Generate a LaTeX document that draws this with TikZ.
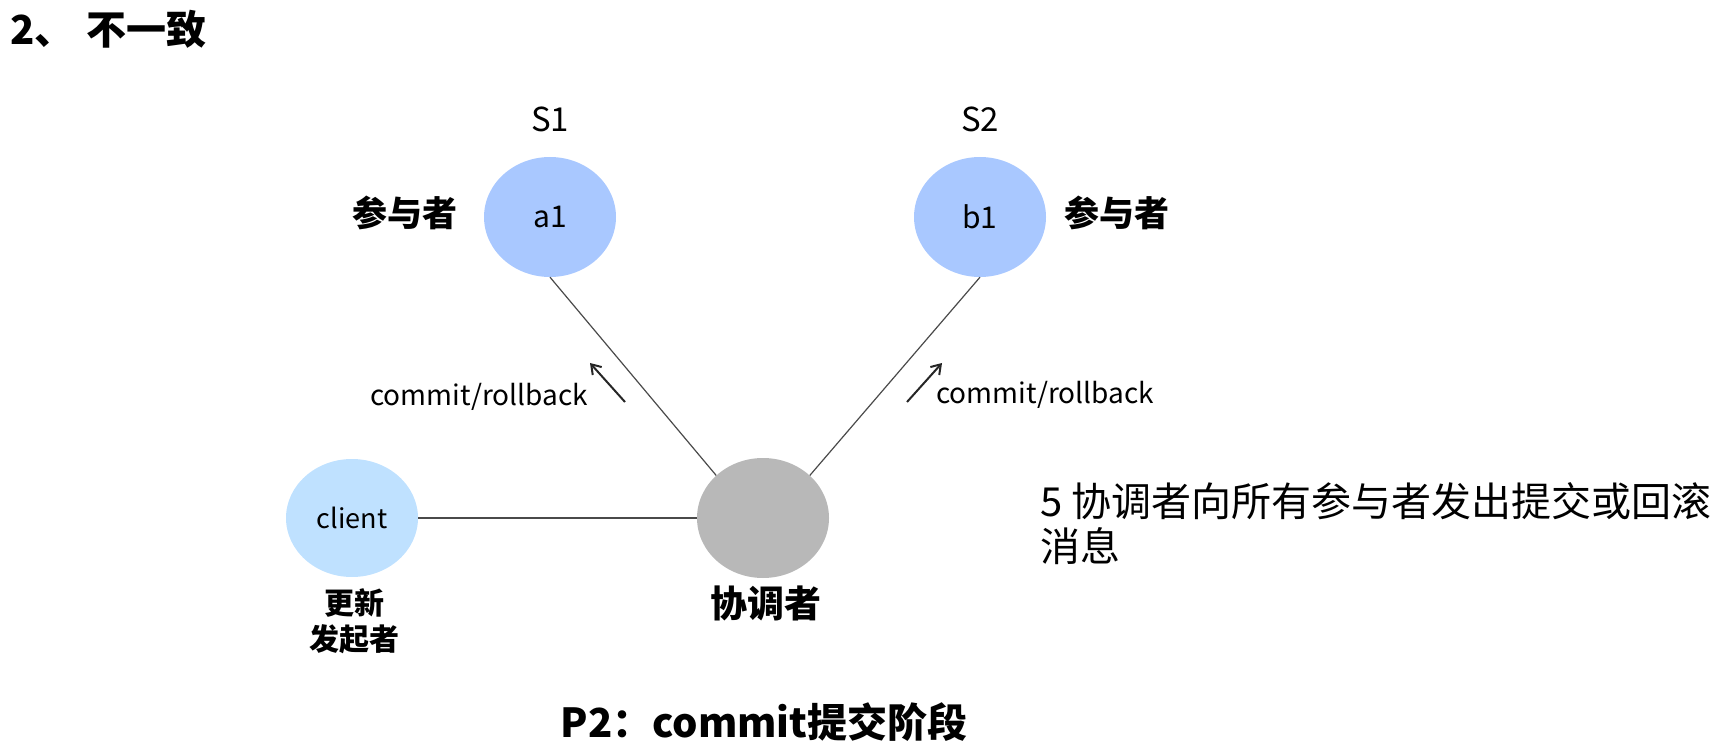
\documentclass[tikz,border=0pt]{standalone}
\usepackage{fontspec}
\setmainfont{Noto Sans CJK SC}
\usetikzlibrary{shapes.geometric,arrows.meta}
\definecolor{partblue}{HTML}{A9C8FF}
\definecolor{clientblue}{HTML}{BFE1FF}
\definecolor{coordgray}{HTML}{B8B8B8}
\definecolor{linegray}{HTML}{4A4A4A}
\tikzset{
  circ/.style={ellipse, inner sep=0pt, minimum width=132pt, minimum height=120pt, draw=none},
  txt/.style={inner sep=0pt, anchor=center, text=black},
  conn/.style={draw=linegray, line width=1.2pt},
  msgarrow/.style={draw=black!85, line width=2pt, -{Straight Barb[length=9pt,width=12pt,line width=2pt]}},
}
\begin{document}
\begin{tikzpicture}[x=1pt,y=-1pt]
\useasboundingbox (0,0) rectangle (1730,743);
% title
\node[txt, anchor=west, font=\fontsize{40}{46}\selectfont\bfseries] (title) at (10,29) {2、\hspace{12pt}不一致};
% nodes
\node[circ, fill=partblue] (a1) at (550,217) {};
\node[txt, font=\fontsize{30}{34}\selectfont] (a1t) at (a1) {a1};
\node[circ, fill=partblue] (b1) at (980,217) {};
\node[txt, font=\fontsize{30}{34}\selectfont] (b1t) at (b1) {b1};
\node[circ, fill=clientblue, minimum height=118pt] (client) at (352,518) {};
\node[txt, font=\fontsize{27}{32}\selectfont] (clientt) at (client) {client};
\node[circ, fill=coordgray] (coord) at (763,518) {};
% labels
\node[txt, font=\fontsize{33}{38}\selectfont] (s1) at (550,119) {S1};
\node[txt, font=\fontsize{33}{38}\selectfont] (s2) at (980,119) {S2};
\node[txt, font=\fontsize{35}{40}\selectfont\bfseries] (pa) at (405,213) {参与者};
\node[txt, font=\fontsize{35}{40}\selectfont\bfseries] (pb) at (1117,213) {参与者};
\node[txt, font=\fontsize{37}{42}\selectfont\bfseries] (coordl) at (766,603) {协调者};
\node[txt, font=\fontsize{30}{36}\selectfont\bfseries, align=center] (clientl) at (354,621) {更新\\发起者};
\node[txt, font=\fontsize{28}{32}\selectfont] (cra) at (479,397) {commit/rollback};
\node[txt, font=\fontsize{28}{32}\selectfont] (crb) at (1045,395) {commit/rollback};
\node[txt, anchor=north west, font=\fontsize{40}{45}\selectfont, align=left] (desc) at (1040,482) {5 协调者向所有参与者发出提交或回滚\\消息};
\node[txt, font=\fontsize{40}{46}\selectfont\bfseries] (p2) at (764,722) {P2：commit提交阶段};
% connectors
\draw[conn] (a1.south) -- (coord.north west);
\draw[conn] (b1.south) -- (coord.north east);
\draw[conn] (client) -- (coord);
% message arrows
\coordinate (la0) at (625,402);
\coordinate (la1) at (590,363);
\coordinate (ra0) at (907,402);
\coordinate (ra1) at (942,363);
\draw[msgarrow] (la0) -- (la1);
\draw[msgarrow] (ra0) -- (ra1);
\end{tikzpicture}
\end{document}
